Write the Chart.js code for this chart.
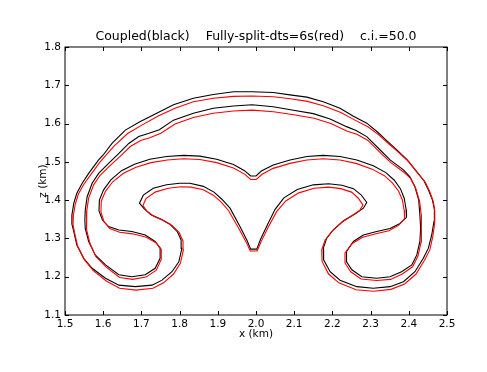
<!DOCTYPE html>
<html>
<head>
<meta charset="utf-8">
<script src="https://cdn.jsdelivr.net/npm/chart.js@4.4.1/dist/chart.umd.min.js"></script>
<style>
  body { margin: 0; background: #fff; }
  #wrap { width: 487px; height: 372px; }
</style>
</head>
<body>
<div id="wrap"><canvas id="plot" width="487" height="372"></canvas></div>
<script>
const TITLE = "Coupled(black)    Fully-split-dts=6s(red)    c.i.=50.0";

const xTickVals = [1.5, 1.6, 1.7, 1.8, 1.9, 2.0, 2.1, 2.2, 2.3, 2.4, 2.5];
const xTickLabels = ["1.5", "1.6", "1.7", "1.8", "1.9", "2.0", "2.1", "2.2", "2.3", "2.4", "2.5"];
const zTickVals = [1.1, 1.2, 1.3, 1.4, 1.5, 1.6, 1.7, 1.8];
const zTickLabels = ["1.1", "1.2", "1.3", "1.4", "1.5", "1.6", "1.7", "1.8"];

// coupled run (black): outer contour + horseshoe
const blackOuterX = [1.990, 1.941, 1.888, 1.836, 1.784, 1.740, 1.696, 1.658, 1.623, 1.600, 1.588, 1.562, 1.545, 1.531, 1.523, 1.518, 1.518, 1.523, 1.531, 1.549, 1.571, 1.606, 1.641, 1.684, 1.728, 1.754, 1.780, 1.798, 1.806, 1.804, 1.794, 1.775, 1.752, 1.725, 1.707, 1.695, 1.705, 1.731, 1.766, 1.800, 1.827, 1.862, 1.890, 1.910, 1.932, 1.958, 1.976, 1.986, 2.002, 2.012, 2.030, 2.050, 2.073, 2.108, 2.150, 2.190, 2.225, 2.255, 2.275, 2.290, 2.281, 2.259, 2.229, 2.202, 2.185, 2.176, 2.177, 2.194, 2.220, 2.264, 2.307, 2.351, 2.386, 2.416, 2.438, 2.451, 2.460, 2.466, 2.467, 2.462, 2.452, 2.440, 2.420, 2.396, 2.370, 2.345, 2.318, 2.290, 2.255, 2.220, 2.176, 2.133, 2.089, 2.045, 1.990];
const blackOuterZ = [1.683, 1.683, 1.676, 1.666, 1.649, 1.627, 1.605, 1.583, 1.548, 1.518, 1.505, 1.470, 1.444, 1.418, 1.392, 1.361, 1.338, 1.318, 1.283, 1.248, 1.222, 1.196, 1.178, 1.174, 1.178, 1.191, 1.213, 1.239, 1.274, 1.296, 1.318, 1.337, 1.350, 1.362, 1.378, 1.392, 1.413, 1.431, 1.440, 1.444, 1.444, 1.436, 1.421, 1.403, 1.379, 1.331, 1.296, 1.272, 1.272, 1.298, 1.336, 1.376, 1.406, 1.428, 1.440, 1.443, 1.439, 1.430, 1.414, 1.394, 1.379, 1.364, 1.346, 1.322, 1.300, 1.274, 1.244, 1.213, 1.191, 1.174, 1.170, 1.174, 1.187, 1.213, 1.248, 1.274, 1.309, 1.345, 1.375, 1.400, 1.425, 1.450, 1.475, 1.505, 1.530, 1.553, 1.578, 1.601, 1.619, 1.640, 1.657, 1.669, 1.675, 1.681, 1.683];

// coupled run (black): second contour + inner loops + M
const blackInnerX = [1.990, 1.941, 1.888, 1.836, 1.784, 1.747, 1.718, 1.693, 1.667, 1.641, 1.614, 1.588, 1.571, 1.558, 1.553, 1.552, 1.553, 1.562, 1.579, 1.606, 1.641, 1.675, 1.710, 1.736, 1.749, 1.749, 1.736, 1.710, 1.675, 1.641, 1.614, 1.598, 1.589, 1.590, 1.601, 1.620, 1.648, 1.682, 1.722, 1.766, 1.810, 1.853, 1.897, 1.941, 1.970, 1.986, 2.000, 2.014, 2.045, 2.089, 2.133, 2.176, 2.220, 2.264, 2.307, 2.340, 2.362, 2.378, 2.388, 2.393, 2.394, 2.377, 2.351, 2.316, 2.281, 2.255, 2.237, 2.237, 2.251, 2.277, 2.316, 2.351, 2.381, 2.408, 2.421, 2.429, 2.431, 2.429, 2.426, 2.416, 2.403, 2.386, 2.351, 2.325, 2.290, 2.262, 2.237, 2.194, 2.150, 2.098, 2.045, 1.990];
const blackInnerZ = [1.649, 1.646, 1.640, 1.627, 1.609, 1.584, 1.574, 1.566, 1.548, 1.522, 1.496, 1.470, 1.444, 1.409, 1.374, 1.348, 1.326, 1.292, 1.257, 1.231, 1.205, 1.200, 1.205, 1.222, 1.248, 1.274, 1.292, 1.309, 1.318, 1.322, 1.331, 1.348, 1.372, 1.400, 1.427, 1.453, 1.477, 1.494, 1.507, 1.514, 1.517, 1.515, 1.507, 1.493, 1.477, 1.463, 1.463, 1.476, 1.492, 1.505, 1.514, 1.517, 1.514, 1.505, 1.490, 1.472, 1.452, 1.430, 1.405, 1.375, 1.355, 1.339, 1.326, 1.318, 1.309, 1.292, 1.266, 1.239, 1.218, 1.200, 1.196, 1.200, 1.213, 1.231, 1.257, 1.292, 1.326, 1.361, 1.400, 1.435, 1.461, 1.479, 1.505, 1.531, 1.566, 1.582, 1.592, 1.612, 1.626, 1.635, 1.644, 1.649];

// fully split, dt=6s (red)
const redOuterX = [1.990, 1.941, 1.888, 1.836, 1.788, 1.744, 1.701, 1.664, 1.629, 1.605, 1.592, 1.567, 1.549, 1.535, 1.527, 1.522, 1.521, 1.525, 1.533, 1.551, 1.574, 1.608, 1.643, 1.686, 1.730, 1.758, 1.784, 1.802, 1.810, 1.809, 1.799, 1.780, 1.757, 1.732, 1.714, 1.704, 1.712, 1.736, 1.770, 1.804, 1.830, 1.862, 1.888, 1.907, 1.928, 1.955, 1.974, 1.985, 2.003, 2.014, 2.033, 2.054, 2.078, 2.112, 2.152, 2.190, 2.222, 2.250, 2.268, 2.280, 2.272, 2.252, 2.224, 2.198, 2.181, 2.172, 2.173, 2.190, 2.217, 2.262, 2.307, 2.353, 2.389, 2.419, 2.441, 2.455, 2.463, 2.468, 2.468, 2.464, 2.455, 2.443, 2.424, 2.400, 2.374, 2.349, 2.322, 2.294, 2.259, 2.222, 2.178, 2.135, 2.090, 2.046, 1.990];
const redOuterZ = [1.672, 1.671, 1.666, 1.657, 1.640, 1.620, 1.596, 1.574, 1.542, 1.515, 1.500, 1.466, 1.441, 1.416, 1.390, 1.361, 1.336, 1.315, 1.280, 1.244, 1.216, 1.189, 1.170, 1.165, 1.170, 1.184, 1.207, 1.235, 1.270, 1.293, 1.315, 1.334, 1.347, 1.358, 1.372, 1.386, 1.404, 1.421, 1.431, 1.435, 1.434, 1.427, 1.413, 1.397, 1.373, 1.326, 1.291, 1.267, 1.267, 1.293, 1.331, 1.370, 1.398, 1.419, 1.431, 1.434, 1.430, 1.421, 1.405, 1.387, 1.374, 1.360, 1.342, 1.318, 1.296, 1.270, 1.240, 1.207, 1.184, 1.166, 1.162, 1.167, 1.181, 1.207, 1.243, 1.270, 1.306, 1.342, 1.372, 1.397, 1.422, 1.447, 1.470, 1.500, 1.524, 1.546, 1.570, 1.591, 1.609, 1.629, 1.646, 1.658, 1.665, 1.670, 1.672];

const redInnerX = [1.990, 1.941, 1.888, 1.836, 1.788, 1.751, 1.722, 1.698, 1.671, 1.645, 1.618, 1.592, 1.575, 1.562, 1.557, 1.556, 1.557, 1.565, 1.581, 1.608, 1.643, 1.677, 1.712, 1.739, 1.752, 1.752, 1.739, 1.713, 1.677, 1.643, 1.617, 1.602, 1.594, 1.595, 1.606, 1.625, 1.653, 1.686, 1.725, 1.768, 1.810, 1.853, 1.897, 1.941, 1.970, 1.986, 2.001, 2.015, 2.045, 2.089, 2.133, 2.176, 2.220, 2.262, 2.304, 2.336, 2.357, 2.373, 2.383, 2.388, 2.389, 2.373, 2.348, 2.314, 2.279, 2.252, 2.233, 2.233, 2.248, 2.275, 2.316, 2.352, 2.383, 2.410, 2.424, 2.432, 2.434, 2.432, 2.428, 2.418, 2.405, 2.387, 2.353, 2.327, 2.293, 2.264, 2.239, 2.196, 2.152, 2.099, 2.046, 1.990];
const redInnerZ = [1.635, 1.633, 1.627, 1.616, 1.599, 1.575, 1.563, 1.556, 1.540, 1.515, 1.490, 1.465, 1.440, 1.406, 1.372, 1.346, 1.323, 1.288, 1.252, 1.225, 1.198, 1.193, 1.199, 1.217, 1.245, 1.272, 1.288, 1.303, 1.312, 1.316, 1.326, 1.344, 1.370, 1.398, 1.423, 1.448, 1.470, 1.486, 1.498, 1.505, 1.508, 1.506, 1.498, 1.484, 1.468, 1.454, 1.454, 1.467, 1.483, 1.496, 1.505, 1.508, 1.505, 1.496, 1.481, 1.464, 1.445, 1.424, 1.401, 1.373, 1.352, 1.334, 1.320, 1.312, 1.303, 1.287, 1.262, 1.236, 1.213, 1.194, 1.190, 1.193, 1.207, 1.226, 1.254, 1.290, 1.325, 1.360, 1.398, 1.431, 1.456, 1.473, 1.498, 1.522, 1.556, 1.572, 1.580, 1.600, 1.614, 1.623, 1.631, 1.635];

function pts(xs, zs) {
  return xs.map((x, i) => ({ x: x, y: zs[i] }));
}

function contour(xs, zs, color, order) {
  return {
    data: pts(xs, zs),
    showLine: true,
    borderColor: color,
    borderWidth: 1.1,
    pointRadius: 0,
    pointHoverRadius: 0,
    fill: false,
    tension: 0,
    order: order
  };
}

// frame, inward ticks on all four sides, and the title
const framePlugin = {
  id: "frame",
  afterDraw(chart) {
    const { ctx, chartArea: a, scales } = chart;
    const tl = 4;
    ctx.save();
    ctx.strokeStyle = "#000";
    ctx.lineWidth = 1;
    ctx.strokeRect(a.left, a.top, a.right - a.left, a.bottom - a.top);
    ctx.beginPath();
    xTickVals.forEach(v => {
      const px = Math.round(scales.x.getPixelForValue(v)) + 0.5;
      ctx.moveTo(px, a.bottom); ctx.lineTo(px, a.bottom - tl);
      ctx.moveTo(px, a.top); ctx.lineTo(px, a.top + tl);
    });
    zTickVals.forEach(v => {
      const py = Math.round(scales.y.getPixelForValue(v)) + 0.5;
      ctx.moveTo(a.left, py); ctx.lineTo(a.left + tl, py);
      ctx.moveTo(a.right, py); ctx.lineTo(a.right - tl, py);
    });
    ctx.stroke();
    ctx.fillStyle = "#000";
    ctx.font = '12.5px "DejaVu Sans"';
    ctx.textAlign = "center";
    ctx.textBaseline = "alphabetic";
    ctx.fillText(TITLE, (a.left + a.right) / 2, 40);
    ctx.restore();
  }
};

const tickFont = { family: "DejaVu Sans", size: 10.5 };

new Chart(document.getElementById("plot"), {
  type: "scatter",
  data: {
    datasets: [
      contour(blackOuterX, blackOuterZ, "#000000", 2),
      contour(blackInnerX, blackInnerZ, "#000000", 2),
      contour(redOuterX, redOuterZ, "#ff0000", 1),
      contour(redInnerX, redInnerZ, "#ff0000", 1)
    ]
  },
  options: {
    responsive: false,
    animation: false,
    devicePixelRatio: 1,
    layout: { padding: { top: 47, right: 40, left: 0, bottom: 0 } },
    plugins: {
      legend: { display: false },
      tooltip: { enabled: false }
    },
    scales: {
      x: {
        type: "linear",
        min: 1.5,
        max: 2.5,
        grid: { display: false, drawTicks: false },
        border: { display: false },
        afterBuildTicks: s => { s.ticks = xTickVals.map(v => ({ value: v })); },
        afterFit: s => { s.height = 57; },
        ticks: {
          autoSkip: false,
          maxRotation: 0,
          padding: 3,
          color: "#000",
          font: tickFont,
          callback: (v, i) => xTickLabels[i]
        },
        title: {
          display: true,
          text: "x (km)",
          color: "#000",
          font: tickFont,
          padding: { top: 0, bottom: 31 }
        }
      },
      y: {
        type: "linear",
        min: 1.1,
        max: 1.8,
        grid: { display: false, drawTicks: false },
        border: { display: false },
        afterBuildTicks: s => { s.ticks = zTickVals.map(v => ({ value: v })); },
        afterFit: s => { s.width = 65; },
        ticks: {
          autoSkip: false,
          padding: 4,
          color: "#000",
          font: tickFont,
          callback: (v, i) => zTickLabels[i]
        },
        title: {
          display: true,
          text: "z (km)",
          color: "#000",
          font: tickFont,
          padding: { top: 37, bottom: 0 }
        }
      }
    }
  },
  plugins: [framePlugin]
});
</script>
</body>
</html>
